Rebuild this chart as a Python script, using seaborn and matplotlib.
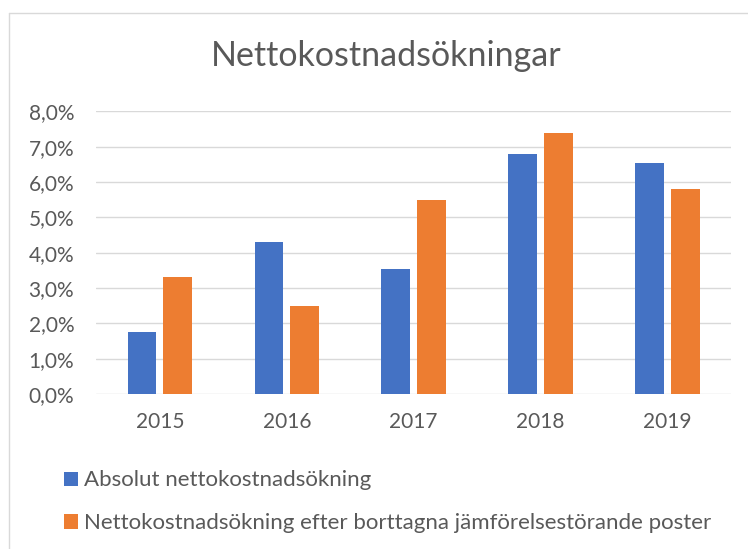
import matplotlib
matplotlib.use("Agg")
import matplotlib.pyplot as plt
import pandas as pd
import seaborn as sns
from matplotlib.lines import Line2D
from matplotlib.ticker import FuncFormatter

years = ["2015", "2016", "2017", "2018", "2019"]
absolut = [1.75, 4.3, 3.55, 6.8, 6.55]
justerad = [3.3, 2.5, 5.5, 7.4, 5.8]
series_names = [
    "Absolut nettokostnadsökning",
    "Nettokostnadsökning efter borttagna jämförelsestörande poster",
]
title = "Nettokostnadsökningar"

colors = ["#4472C4", "#ED7D31"]
text_gray = "#595959"
grid_gray = "#D9D9D9"

sns.set_theme(style="whitegrid")
plt.rcParams["font.family"] = ["Lato", "DejaVu Sans"]

df = pd.DataFrame({
    "year": years * 2,
    "value": absolut + justerad,
    "serie": [series_names[0]] * len(years) + [series_names[1]] * len(years),
})

fig = plt.figure(figsize=(7.48, 5.49), dpi=100)
ax = fig.add_axes([0.129, 0.2823, 0.848, 0.5147])

sns.barplot(
    data=df, x="year", y="value", hue="serie", order=years,
    hue_order=series_names, palette=colors, width=0.564, gap=0.2,
    saturation=1, edgecolor="none", linewidth=0, ax=ax,
)

handles, labels = ax.get_legend_handles_labels()
ax.legend_.remove()

ax.set_ylim(0, 8)
ax.set_yticks(range(0, 9))
ax.yaxis.set_major_formatter(FuncFormatter(lambda v, _: f"{v:.1f}%".replace(".", ",")))
ax.set_xlabel("")
ax.set_ylabel("")
ax.grid(axis="y", color=grid_gray, linewidth=1.0)
ax.grid(axis="x", visible=False)
for s in ax.spines.values():
    s.set_visible(False)
ax.tick_params(axis="both", length=0, labelsize=15, labelcolor=text_gray)
ax.tick_params(axis="y", pad=16)
ax.tick_params(axis="x", pad=13)
ax.set_facecolor("white")

fig.text(0.516, 0.879, title, ha="center", va="baseline", fontsize=24.5, color=text_gray)

fig.legend(
    handles, labels, loc="upper left", bbox_to_anchor=(0.086, 0.143),
    frameon=False, fontsize=16, labelcolor=text_gray, ncols=1,
    handlelength=0.6, handleheight=0.6, handletextpad=0.3,
    labelspacing=1.03, borderpad=0, borderaxespad=0,
)

# chart area border (cut at right and bottom in the reference)
fig.add_artist(Line2D([9.3 / 748, 9.3 / 748], [0, 1 - 12.7 / 549], color=grid_gray, lw=1.0))
fig.add_artist(Line2D([9.3 / 748, 1], [1 - 12.7 / 549, 1 - 12.7 / 549], color=grid_gray, lw=1.0))

fig.savefig("out.png", dpi=100, facecolor="white")
